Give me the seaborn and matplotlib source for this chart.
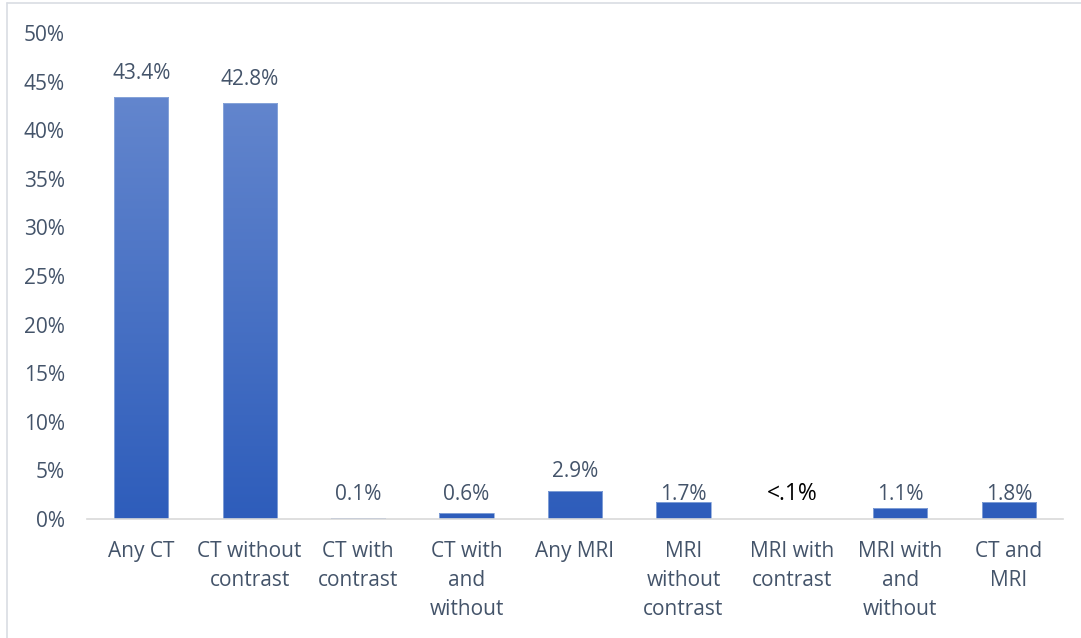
import numpy as np
import pandas as pd
import matplotlib
matplotlib.use("Agg")
import matplotlib.pyplot as plt
import seaborn as sns
from matplotlib.colors import LinearSegmentedColormap

categories = ["Any CT", "CT without\ncontrast", "CT with\ncontrast", "CT with\nand\nwithout",
              "Any MRI", "MRI\nwithout\ncontrast", "MRI with\ncontrast", "MRI with\nand\nwithout",
              "CT and\nMRI"]
values = [43.4, 42.8, 0.1, 0.6, 2.9, 1.7, 0.05, 1.1, 1.8]
value_labels = ["43.4%", "42.8%", "0.1%", "0.6%", "2.9%", "1.7%", "<.1%", "1.1%", "1.8%"]
yticks = [0, 5, 10, 15, 20, 25, 30, 35, 40, 45, 50]

sns.set_theme(style="white")
plt.rcParams['font.family'] = ['Open Sans', 'DejaVu Sans']
text_color = "#44546a"
fs = 15

fig = plt.figure(figsize=(10.81, 6.38), dpi=100)
ax = fig.add_axes([87 / 1081, 1 - 519 / 638, (1063 - 87) / 1081, (519 - 33) / 638])

df = pd.DataFrame({"cat": categories, "val": values})
sns.barplot(data=df, x="cat", y="val", color="#4472c4", width=0.5, ax=ax,
            saturation=1, edgecolor="#8eaadb", linewidth=0.6)

# gradient fill
cmap = LinearSegmentedColormap.from_list("g", ["#2e5dbb", "#6b8cd0"])
grad = np.linspace(0, 1, 256).reshape(-1, 1)
for p in ax.patches:
    x0 = p.get_x()
    w, h = p.get_width(), p.get_height()
    if h <= 0:
        continue
    im = ax.imshow(grad, extent=[x0, x0 + w, 0, 50], origin="lower", cmap=cmap,
                   aspect="auto", zorder=p.get_zorder() + 0.1, interpolation="bilinear")
    im.set_clip_path(p)
    p.set_facecolor("none")
    p.set_zorder(p.get_zorder() + 0.2)
ax.set_xlim(-0.5, len(categories) - 0.5)
ax.set_ylim(0, 50)

# value labels
for i, (v, lab) in enumerate(zip(values, value_labels)):
    if lab.startswith("<"):
        ax.text(i, 2.57, lab, ha="center", va="center", fontsize=16.5, color="black")
    elif v < 2.5:
        ax.text(i, 2.57, lab, ha="center", va="center", fontsize=fs, color=text_color)
    elif v < 10:
        ax.text(i, v + 1.95, lab, ha="center", va="center", fontsize=fs, color=text_color)
    else:
        ax.text(i, v + 2.45, lab, ha="center", va="center", fontsize=fs, color=text_color)

ax.set_yticks(yticks)
ax.set_yticklabels([f"{t}%" for t in yticks], fontsize=fs, color=text_color)
ax.set_xticks(range(len(categories)))
ax.set_xticklabels(categories, fontsize=fs, color=text_color, linespacing=1.53, va="top")
ax.tick_params(axis="x", length=0, pad=15.5)
ax.tick_params(axis="y", length=0, pad=16)
ax.set_xlabel("")
ax.set_ylabel("")
for s in ["top", "right", "left"]:
    ax.spines[s].set_visible(False)
ax.spines["bottom"].set_color("#d9d9d9")
ax.spines["bottom"].set_linewidth(1.2)
ax.grid(False)

# chart area border
fig.add_artist(plt.Line2D([7 / 1081, 1.0], [1 - 3 / 638, 1 - 3 / 638], color="#d9dde3", lw=1.2))
fig.add_artist(plt.Line2D([7 / 1081, 7 / 1081], [0, 1 - 3 / 638], color="#d9dde3", lw=1.2))

fig.savefig("out.png", dpi=100)
